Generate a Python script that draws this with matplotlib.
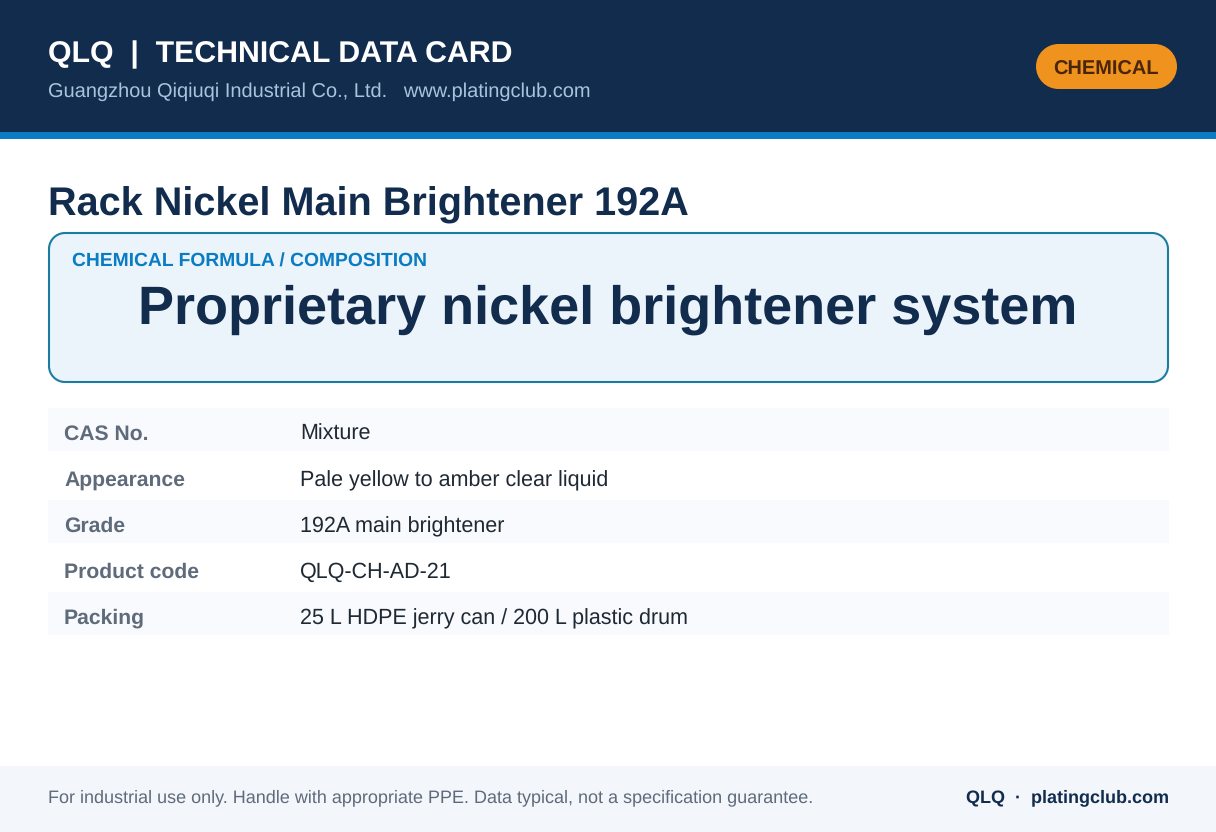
import matplotlib
matplotlib.use("Agg")
import matplotlib.pyplot as plt
from matplotlib.patches import Rectangle, PathPatch
from matplotlib.path import Path

plt.rcParams['font.family'] = ['Liberation Sans', 'DejaVu Sans']
plt.rcParams['text.hinting'] = 'no_hinting'
plt.rcParams['text.hinting_factor'] = 8

brand_title = "QLQ  |  TECHNICAL DATA CARD"
brand_sub = "Guangzhou Qiqiuqi Industrial Co., Ltd.   www.platingclub.com"
badge = "CHEMICAL"
product = "Rack Nickel Main Brightener 192A"
formula_label = "CHEMICAL FORMULA / COMPOSITION"
formula = "Proprietary nickel brightener system"
row_labels = ["CAS No.", "Appearance", "Grade", "Product code", "Packing"]
row_values = ["Mixture", "Pale yellow to amber clear liquid", "192A main brightener",
              "QLQ-CH-AD-21", "25 L HDPE jerry can / 200 L plastic drum"]
footer_left = "For industrial use only. Handle with appropriate PPE. Data typical, not a specification guarantee."
footer_right = "QLQ  ·  platingclub.com"

W, H = 1216, 832
fig = plt.figure(figsize=(W / 100, H / 100), dpi=100)
ax = fig.add_axes([0, 0, 1, 1])
ax.set_xlim(0, W)
ax.set_ylim(H, 0)
ax.axis("off")

def px(s):
    return s * 0.72

def rect(x, y, w, h, c, z=1):
    ax.add_patch(Rectangle((x, y), w, h, facecolor=c, edgecolor="none", zorder=z))

def rounded(x, y, w, h, r, fc, ec="none", lw=0, z=2):
    k = r * (1 - 0.5523)
    x2, y2 = x + w, y + h
    verts = [(x + r, y), (x2 - r, y),
             (x2 - k, y), (x2, y + k), (x2, y + r), (x2, y2 - r),
             (x2, y2 - k), (x2 - k, y2), (x2 - r, y2), (x + r, y2),
             (x + k, y2), (x, y2 - k), (x, y2 - r), (x, y + r),
             (x, y + k), (x + k, y), (x + r, y), (x + r, y)]
    C4, L = Path.CURVE4, Path.LINETO
    codes = [Path.MOVETO, L, C4, C4, C4, L, C4, C4, C4, L, C4, C4, C4, L, C4, C4, C4, Path.CLOSEPOLY]
    ax.add_patch(PathPatch(Path(verts, codes), facecolor=fc, edgecolor=ec, linewidth=lw, zorder=z))

rect(0, 0, W, 132, "#122C4D")
rect(0, 132, W, 7, "#0A7CC4")
ax.text(48, 62, brand_title, color="white", fontsize=px(30.3), fontweight="bold", va="baseline")
ax.text(48, 97, brand_sub, color="#A9C3DF", fontsize=px(20), va="baseline")
rounded(1036, 44, 141, 45, 22.5, "#F0931E")
ax.text(1106, 74.5, badge, color="#4A2506", fontsize=px(20), fontweight="bold",
        ha="center", va="baseline", zorder=3)

ax.text(48, 215.5, product, color="#122C4D", fontsize=px(39.65), fontweight="bold", va="baseline")

rounded(49, 233, 1119, 149, 16, "#EBF3FB", "#1A7CA0", 1.5)
ax.text(72, 266.5, formula_label, color="#0A7CC4", fontsize=px(19.3), fontweight="bold",
        va="baseline", zorder=3)
ax.text(608, 324, formula, color="#122C4D", fontsize=px(54), fontweight="bold",
        ha="center", va="baseline", zorder=3)

for i, (lab, val) in enumerate(zip(row_labels, row_values)):
    top = 408 + 46 * i
    if i % 2 == 0:
        rect(48, top, 1121, 43, "#F8FAFD")
    ax.text(64, top + 32, lab, color="#5F6B7A", fontsize=px(21.2), fontweight="bold", va="baseline", zorder=3)
    ax.text(300, top + 32, val, color="#1F2933", fontsize=px(21.55), va="baseline", zorder=3)

rect(0, 766, W, 66, "#F3F6FB")
ax.text(48, 802.5, footer_left, color="#5F6B7A", fontsize=px(18), va="baseline", zorder=3)
ax.text(1169, 802.5, footer_right, color="#122C4D", fontsize=px(18), fontweight="bold",
        ha="right", va="baseline", zorder=3)

fig.savefig("out.png", dpi=100, facecolor="white")
